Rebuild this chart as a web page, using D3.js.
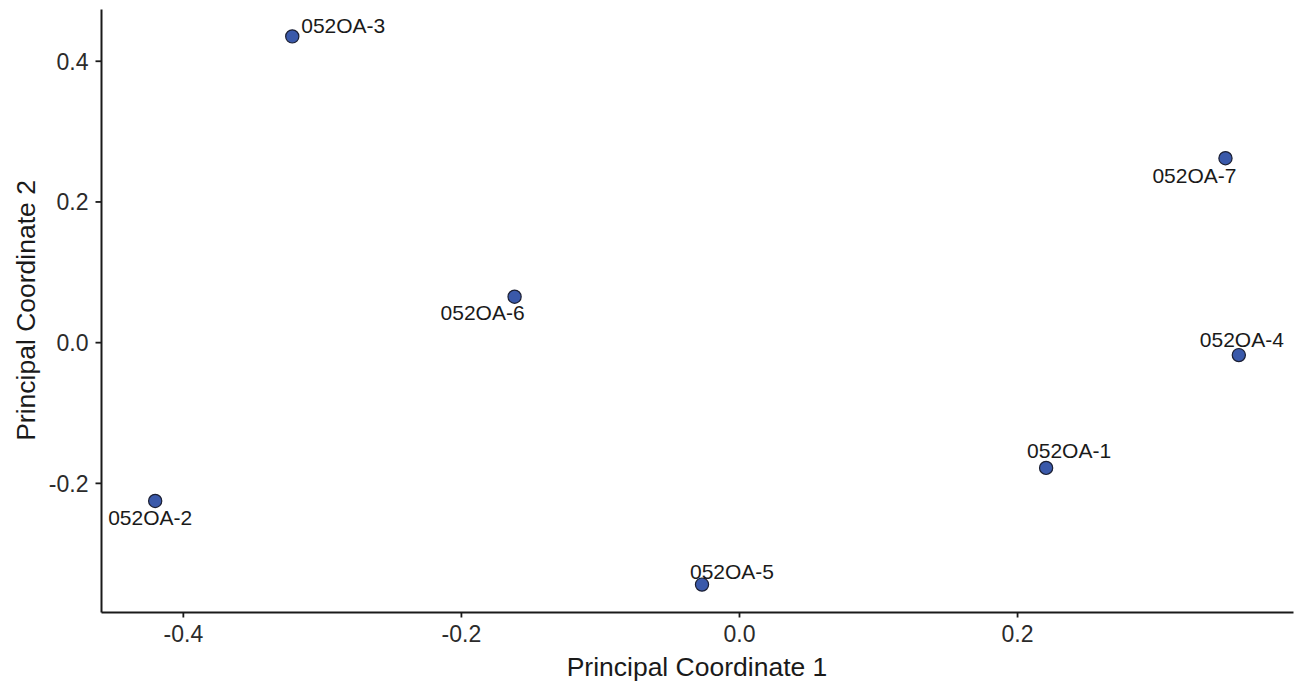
<!DOCTYPE html>
<html>
<head>
<meta charset="utf-8">
<script src="https://cdn.jsdelivr.net/npm/d3@7"></script>
<style>
  html, body { margin: 0; padding: 0; background: #fff; }
  svg { display: block; font-family: "Liberation Sans", Arial, Helvetica, sans-serif; }
</style>
</head>
<body>
<svg id="chart" width="1294" height="687"></svg>
<script>
// ---- data ----
const samples = ["052OA-1", "052OA-2", "052OA-3", "052OA-4", "052OA-5", "052OA-6", "052OA-7"];
const pc1 = [0.2209, -0.4199, -0.3213, 0.3595, -0.0266, -0.1614, 0.3499];
const pc2 = [-0.1787, -0.2257, 0.4346, -0.0184, -0.3446, 0.0646, 0.2615];
const xTicks = [-0.4, -0.2, 0.0, 0.2];
const yTicks = [-0.2, 0.0, 0.2, 0.4];
const xTitle = "Principal Coordinate 1";
const yTitle = "Principal Coordinate 2";

// ---- label placement (repelled-label layout, pixel offsets from point) ----
const labelOffsets = [
  [23, -10], [-5, 24], [51, -3], [3, -8], [30, -6], [-32, 23], [-31, 25]
];

// ---- layout ----
const W = 1294, H = 687;
const margin = { left: 101, right: 1, top: 9, bottom: 75 };
const svg = d3.select("#chart");

function expand(ext, f) {
  const d = (ext[1] - ext[0]) * f;
  return [ext[0] - d, ext[1] + d];
}
const x = d3.scaleLinear()
  .domain(expand(d3.extent(pc1), 0.05))
  .range([margin.left, W - margin.right]);
const y = d3.scaleLinear()
  .domain(expand(d3.extent(pc2), 0.05))
  .range([H - margin.bottom, margin.top]);

const f1 = d3.format(".1f");
const fmt = v => f1(v).replace("\u2212", "-");
const axisColor = "#1a1a1a";

// x axis
const gx = svg.append("g")
  .attr("transform", `translate(0,${H - margin.bottom})`)
  .call(d3.axisBottom(x).tickValues(xTicks).tickFormat(fmt).tickSize(5.5).tickSizeOuter(0).tickPadding(8));
// y axis
const gy = svg.append("g")
  .attr("transform", `translate(${margin.left},0)`)
  .call(d3.axisLeft(y).tickValues(yTicks).tickFormat(fmt).tickSize(5.5).tickSizeOuter(0).tickPadding(7));

[gx, gy].forEach(g => {
  g.select(".domain").attr("stroke", axisColor).attr("stroke-width", 2);
  g.selectAll(".tick line").attr("stroke", axisColor).attr("stroke-width", 1.8);
  g.selectAll(".tick text").attr("fill", "#2b2b2b").attr("font-size", 23)
    .attr("font-family", "Liberation Sans, Arial, sans-serif");
});
gx.selectAll(".tick text").attr("dy", "0.71em");
gy.selectAll(".tick text").attr("dy", "0.36em");

// axis titles
svg.append("text")
  .attr("x", (margin.left + W - margin.right) / 2)
  .attr("y", 676)
  .attr("text-anchor", "middle")
  .attr("font-size", 26.5)
  .attr("fill", "#1a1a1a")
  .text(xTitle);
svg.append("text")
  .attr("transform", `translate(34.5,${(margin.top + H - margin.bottom) / 2}) rotate(-90)`)
  .attr("text-anchor", "middle")
  .attr("font-size", 26.5)
  .attr("fill", "#1a1a1a")
  .text(yTitle);

// points
const data = samples.map((s, i) => ({ name: s, x: pc1[i], y: pc2[i], off: labelOffsets[i] }));
svg.append("g").selectAll("circle")
  .data(data).join("circle")
  .attr("cx", d => x(d.x))
  .attr("cy", d => y(d.y))
  .attr("r", 6.6)
  .attr("fill", "#3a59aa")
  .attr("stroke", "#1b1f33")
  .attr("stroke-width", 1.2);

// labels
svg.append("g").selectAll("text")
  .data(data).join("text")
  .attr("x", d => x(d.x) + d.off[0])
  .attr("y", d => y(d.y) + d.off[1])
  .attr("text-anchor", "middle")
  .attr("font-size", 21)
  .attr("fill", "#1a1a1a")
  .text(d => d.name);
</script>
</body>
</html>
